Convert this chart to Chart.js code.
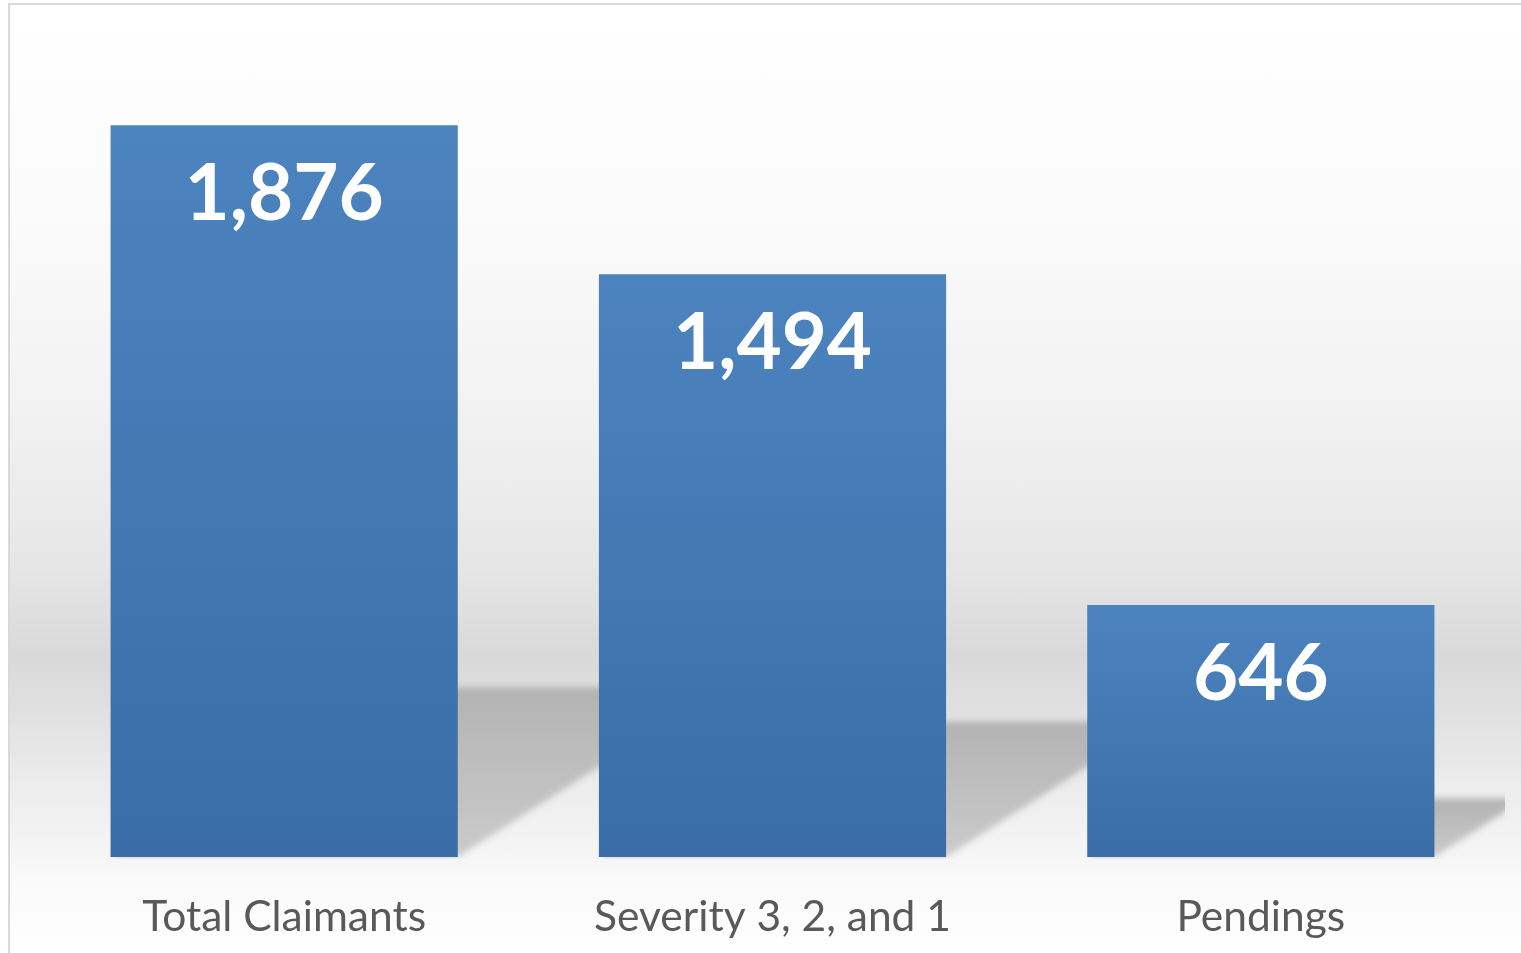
<!DOCTYPE html>
<html>
<head>
<meta charset="utf-8">
<script src="https://cdn.jsdelivr.net/npm/chart.js@4.4.0/dist/chart.umd.min.js"></script>
<style>
  html, body { margin: 0; padding: 0; overflow: hidden; background: #fff; }
  body { width: 1521px; height: 953px; position: relative; }
  #frame {
    position: absolute; left: 8px; top: 3px; width: 1600px; height: 1000px;
    border: 2px solid #d9d9d9;
    background: linear-gradient(to bottom,
      #ffffff 0px, #fbfbfb 200px, #f2f2f2 400px, #e6e6e6 560px,
      #d9d9d9 650px, #dfdfdf 700px, #ececec 780px, #f6f6f6 854px,
      #fafafa 880px, #ffffff 950px);
  }
  #wrap { position: absolute; left: 0; top: 0; width: 1521px; height: 953px; }
</style>
</head>
<body>
<div id="frame"></div>
<div id="wrap"><canvas id="chart"></canvas></div>
<script>
const categories = ["Total Claimants", "Severity 3, 2, and 1", "Pendings"];
const claimants = [1876, 1494, 646];

// bar colour: lighter at the top of each bar, darker at the base
function barGradient(context) {
  const chart = context.chart;
  const yScale = chart.scales.y;
  if (!yScale || context.dataIndex === undefined) return '#4479b4';
  const top = yScale.getPixelForValue(context.raw);
  const base = yScale.getPixelForValue(0);
  if (!isFinite(top) || !isFinite(base)) return '#4479b4';
  const g = chart.ctx.createLinearGradient(0, top, 0, base);
  g.addColorStop(0, '#4c84bf');
  g.addColorStop(1, '#3a6da6');
  return g;
}

const barShadows = {
  id: 'barShadows',
  beforeDatasetsDraw(chart) {
    const ctx = chart.ctx;
    const area = chart.chartArea;
    const meta = chart.getDatasetMeta(0);
    ctx.save();
    ctx.beginPath();
    ctx.rect(area.left, area.top, area.right - area.left, area.bottom - area.top + 2);
    ctx.clip();
    ctx.filter = 'blur(3px)';
    meta.data.forEach(bar => {
      const x0 = bar.x - bar.width / 2;
      const x1 = bar.x + bar.width / 2;
      const h = bar.base - bar.y;
      const sh = h * 0.232;
      const dx = sh / 0.64;
      const g = ctx.createLinearGradient(0, bar.base - sh, 0, bar.base);
      g.addColorStop(0, '#b3b3b3');
      g.addColorStop(1, '#cbcbcb');
      ctx.fillStyle = g;
      ctx.beginPath();
      ctx.moveTo(x0, bar.base);
      ctx.lineTo(x1, bar.base);
      ctx.lineTo(x1 + dx, bar.base - sh);
      ctx.lineTo(x0 + dx, bar.base - sh);
      ctx.closePath();
      ctx.fill();
    });
    ctx.restore();
  }
};

const barValues = {
  id: 'barValues',
  afterDatasetsDraw(chart) {
    const ctx = chart.ctx;
    const meta = chart.getDatasetMeta(0);
    ctx.save();
    ctx.fillStyle = '#ffffff';
    ctx.font = 'bold 78px Lato';
    ctx.textAlign = 'center';
    ctx.textBaseline = 'alphabetic';
    meta.data.forEach((bar, i) => {
      ctx.fillText(claimants[i].toLocaleString('en-US'), bar.x, bar.y + 95);
    });
    ctx.restore();
  }
};

new Chart(document.getElementById('chart'), {
  type: 'bar',
  data: {
    labels: categories,
    datasets: [{
      data: claimants,
      backgroundColor: barGradient,
      borderWidth: 0,
      barPercentage: 0.711,
      categoryPercentage: 1
    }]
  },
  options: {
    responsive: true,
    maintainAspectRatio: false,
    animation: false,
    layout: { padding: { left: 40, right: 16, top: 38, bottom: 0 } },
    plugins: { legend: { display: false }, tooltip: { enabled: false } },
    scales: {
      x: {
        grid: { display: false, drawTicks: false },
        border: { display: false },
        ticks: { color: '#595959', font: { family: 'Lato', size: 42.5 }, padding: 35 },
        afterFit(scale) { scale.height = 96; }
      },
      y: { display: false, min: 0, max: 2100 }
    }
  },
  plugins: [barShadows, barValues]
});
</script>
</body>
</html>
